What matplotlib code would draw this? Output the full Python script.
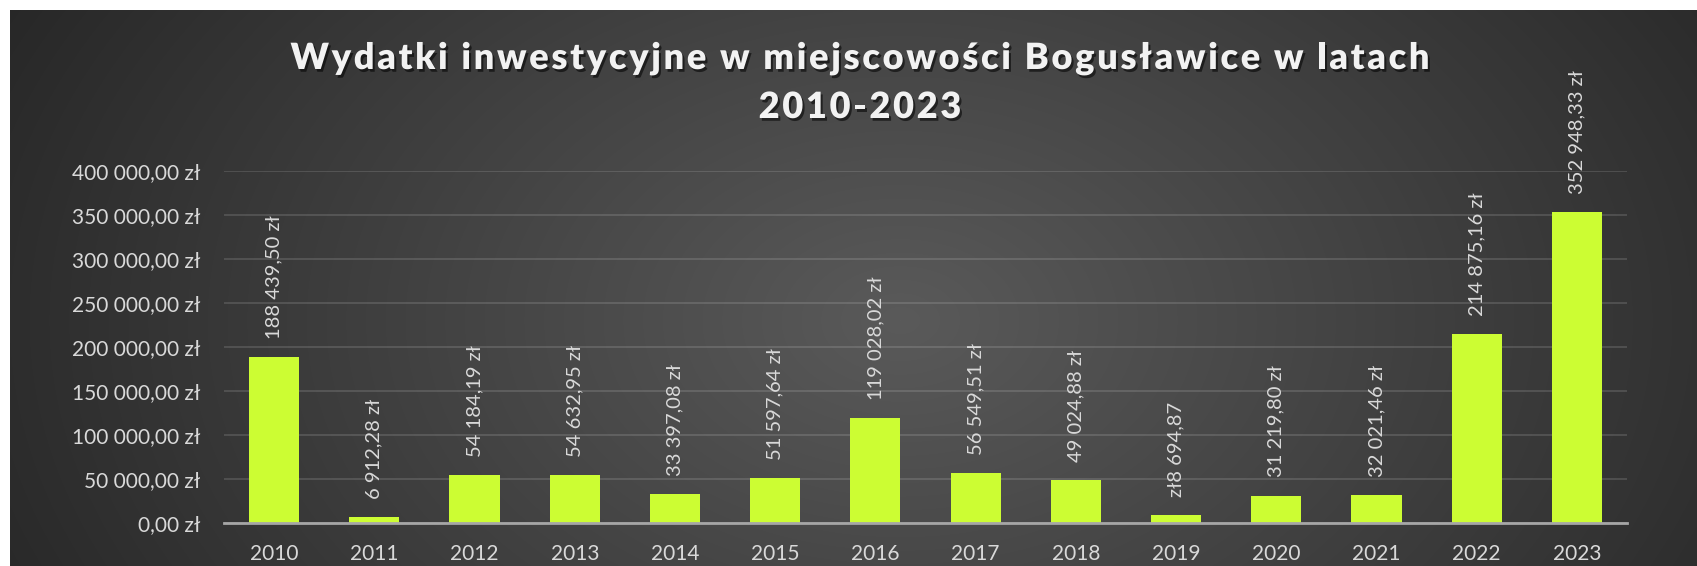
import numpy as np
import matplotlib
matplotlib.use("Agg")
import matplotlib.pyplot as plt
import matplotlib.patheffects as pe
from matplotlib.font_manager import FontProperties, findfont
from matplotlib.ft2font import FT2Font
try:
    from matplotlib.ft2font import LoadFlags
    NOH = LoadFlags.NO_HINTING
except ImportError:
    from matplotlib.ft2font import LOAD_NO_HINTING as NOH

# ---- data ----
years = ["2010", "2011", "2012", "2013", "2014", "2015", "2016",
         "2017", "2018", "2019", "2020", "2021", "2022", "2023"]
values = [188439.50, 6912.28, 54184.19, 54632.95, 33397.08, 51597.64, 119028.02,
          56549.51, 49024.88, 8694.87, 31219.80, 32021.46, 214875.16, 352948.33]
value_labels = ["188 439,50 zł", "6 912,28 zł", "54 184,19 zł", "54 632,95 zł",
                "33 397,08 zł", "51 597,64 zł", "119 028,02 zł", "56 549,51 zł",
                "49 024,88 zł", "zł8 694,87", "31 219,80 zł", "32 021,46 zł",
                "214 875,16 zł", "352 948,33 zł"]
y_ticks = [0, 50000, 100000, 150000, 200000, 250000, 300000, 350000, 400000]
y_tick_labels = ["0,00 zł", "50 000,00 zł", "100 000,00 zł", "150 000,00 zł",
                 "200 000,00 zł", "250 000,00 zł", "300 000,00 zł",
                 "350 000,00 zł", "400 000,00 zł"]
title_lines = ["Wydatki inwestycyjne w miejscowości Bogusławice w latach", "2010-2023"]

W, H, DPI = 1697, 566, 100
fig = plt.figure(figsize=(W / DPI, H / DPI), dpi=DPI)

# ---- background: radial gradient with white top/left margin ----
yy, xx = np.mgrid[0:H, 0:W]
cx, cy, rx, ry = 900.0, 320.0, 950.0, 650.0
d = np.sqrt(((xx - cx) / rx) ** 2 + ((yy - cy) / ry) ** 2)
d = np.clip(d, 0, 1.05)
lum = (90 - 48 * d) / 255.0
img = np.dstack([lum, lum, lum])
img[:10, :, :] = 1.0
img[:, :10, :] = 1.0
fig.figimage(img, xo=0, yo=0, origin="upper", zorder=-5)

# ---- axes ----
left_px, right_px, bottom_px, top_px = 224, 1627, 523, 171
ax = fig.add_axes([left_px / W, 1 - bottom_px / H,
                   (right_px - left_px) / W, (bottom_px - top_px) / H])
ax.set_zorder(2)
ax.set_facecolor("none")
ax.patch.set_alpha(0)

x = np.arange(len(years))
ax.bar(x, values, width=0.5, color="#ccfd33", zorder=3)

ax.set_xlim(-0.5, len(years) - 0.5)
ax.set_ylim(0, 400000)
ax.set_yticks(y_ticks)
ax.set_yticklabels(y_tick_labels)
ax.set_xticks(x)
ax.set_xticklabels(years)

for lab in ax.get_yticklabels() + ax.get_xticklabels():
    lab.set_fontfamily("Lato")
    lab.set_fontsize(15)
    lab.set_color("#d9d9d9")
ax.tick_params(axis="y", length=0, pad=17)
ax.tick_params(axis="x", length=0, pad=15)

for s in ["top", "right", "left"]:
    ax.spines[s].set_visible(False)
ax.spines["bottom"].set_color("#a6a6a6")
ax.spines["bottom"].set_linewidth(2.0)
ax.spines["bottom"].set_zorder(4)

ax.yaxis.grid(True, color="white", alpha=0.14, linewidth=1.3, zorder=1)
ax.set_axisbelow(True)

for xi, v, lab in zip(x, values, value_labels):
    ax.annotate(lab, (xi, v), xytext=(0, 13), textcoords="offset points",
                rotation=90, ha="center", va="bottom", color="#d9d9d9",
                fontfamily="Lato", fontsize=14.5, annotation_clip=False, zorder=5)

# ---- title with letter spacing ----
fp = FontProperties(family="Lato", weight="heavy", size=26)


def advances(s, prop):
    font = FT2Font(findfont(prop))
    font.set_size(prop.get_size_in_points(), DPI)
    out = []
    for c in s:
        g = font.load_char(ord(c), flags=NOH)
        out.append(g.linearHoriAdvance / 65536.0)
    return out


effects = [pe.SimplePatchShadow(offset=(1.5, -2.0), shadow_rgbFace="black", alpha=0.55),
           pe.Normal()]

adv1 = advances(title_lines[0], fp)
target1 = 1139.0
track = (target1 - sum(adv1)) / (len(title_lines[0]) - 1)
title_cx = 860.0
baselines = [69.0, 118.0]
for line, base in zip(title_lines, baselines):
    adv = advances(line, fp)
    total = sum(adv) + track * (len(line) - 1)
    xpos = title_cx - total / 2
    for c, a in zip(line, adv):
        if c != " ":
            fig.text(xpos / W, 1 - base / H, c, fontproperties=fp, color="#f2f2f2",
                     ha="left", va="baseline", path_effects=effects, zorder=10)
        xpos += a + track

fig.savefig("out.png", dpi=DPI)
